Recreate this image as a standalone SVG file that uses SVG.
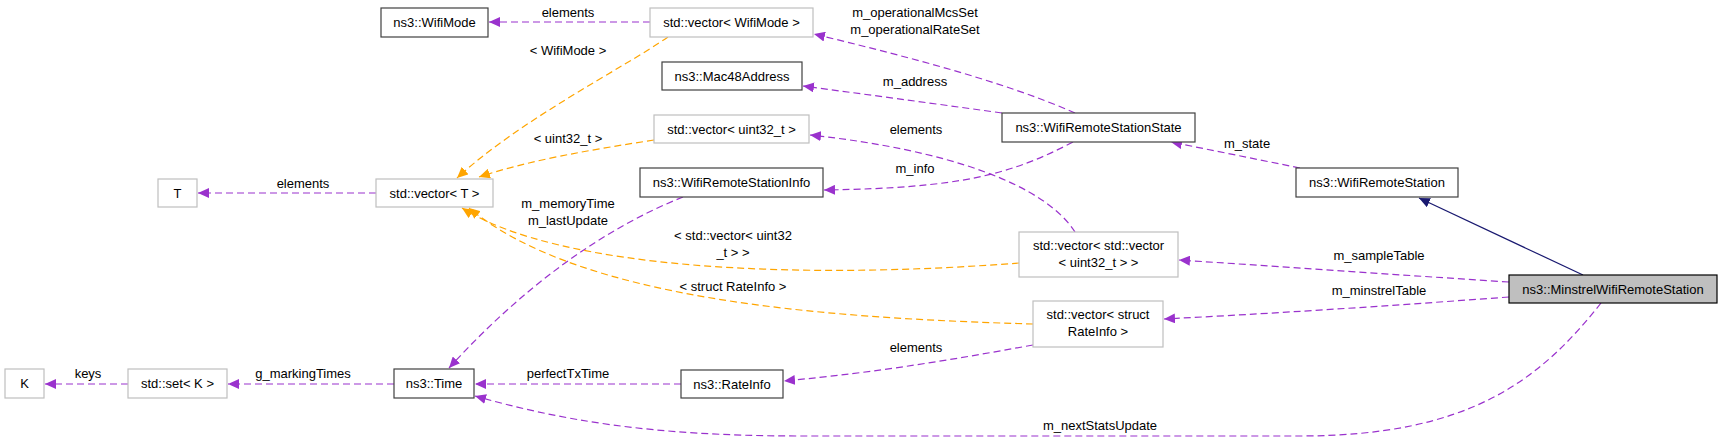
<svg xmlns="http://www.w3.org/2000/svg" width="1723" height="441" viewBox="0 0 1723 441">
<style>
text{font-family:"Liberation Sans",Arial,sans-serif;font-size:13px;fill:#000;text-anchor:middle}
.n rect{fill:#fff;stroke:#404040;stroke-width:1.2}
.g rect{fill:#fff;stroke:#bfbfbf;stroke-width:1.2}
.m rect{fill:#bfbfbf;stroke:#000;stroke-width:1.2}
.p{fill:none;stroke:#9a32cd;stroke-width:1.2;stroke-dasharray:7,4;marker-end:url(#ap)}
.o{fill:none;stroke:#ffa500;stroke-width:1.2;stroke-dasharray:7,4;marker-end:url(#ao)}
.b{fill:none;stroke:#191970;stroke-width:1.2;marker-end:url(#ab)}
</style>
<defs>
<marker id="ap" markerWidth="12" markerHeight="10" refX="11" refY="5" orient="auto" markerUnits="userSpaceOnUse"><path d="M0,0 L11,5 L0,10 Z" fill="#9a32cd"/></marker>
<marker id="ao" markerWidth="12" markerHeight="10" refX="11" refY="5" orient="auto" markerUnits="userSpaceOnUse"><path d="M0,0 L11,5 L0,10 Z" fill="#ffa500"/></marker>
<marker id="ab" markerWidth="12" markerHeight="10" refX="11" refY="5" orient="auto" markerUnits="userSpaceOnUse"><path d="M0,0 L11,5 L0,10 Z" fill="#191970"/></marker>
</defs>
<g id="edges">
<path class="p" d="M650,22 L489,22"/>
<path class="o" d="M668,37 C620,70 520,120 457,178"/>
<path class="p" d="M1075,113 C1000,80 900,55 814,34"/>
<path class="p" d="M1002,113 C930,103 870,95 803,86"/>
<path class="p" d="M1075,232 C1045,185 950,150 810,135"/>
<path class="o" d="M654,140 C590,150 530,160 479,177"/>
<path class="p" d="M1073,142 C1010,175 960,188 824,190"/>
<path class="p" d="M1300,168 L1171,142"/>
<path class="p" d="M376,193 L198,193"/>
<path class="p" d="M683,197 C600,230 520,290 449,368"/>
<path class="o" d="M1019,263 C800,280 560,270 462,208"/>
<path class="o" d="M1033,324 C820,318 580,300 469,208"/>
<path class="p" d="M1033,345 C950,360 880,372 784,381"/>
<path class="p" d="M1509,282 C1400,275 1300,268 1179,260"/>
<path class="p" d="M1509,297 C1400,305 1300,312 1164,319"/>
<path class="b" d="M1583,275 L1419,198"/>
<path class="p" d="M1601,303 C1540,380 1470,436 1300,436 L800,436 C650,436 560,420 475,396"/>
<path class="p" d="M681,384 L475,384"/>
<path class="p" d="M394,384 L228,384"/>
<path class="p" d="M128,384 L45,384"/>
<text x="568" y="17">elements</text>
<text x="568" y="55">&lt; WifiMode &gt;</text>
<text x="915" y="17">m_operationalMcsSet</text>
<text x="915" y="34">m_operationalRateSet</text>
<text x="915" y="86">m_address</text>
<text x="568" y="143">&lt; uint32_t &gt;</text>
<text x="916" y="134">elements</text>
<text x="915" y="173">m_info</text>
<text x="1247" y="148">m_state</text>
<text x="303" y="188">elements</text>
<text x="568" y="208">m_memoryTime</text>
<text x="568" y="225">m_lastUpdate</text>
<text x="733" y="240">&lt; std::vector&lt; uint32</text>
<text x="733" y="257">_t &gt; &gt;</text>
<text x="733" y="291">&lt; struct RateInfo &gt;</text>
<text x="1379" y="260">m_sampleTable</text>
<text x="1379" y="295">m_minstrelTable</text>
<text x="916" y="352">elements</text>
<text x="568" y="378">perfectTxTime</text>
<text x="303" y="378">g_markingTimes</text>
<text x="88" y="378">keys</text>
<text x="1100" y="430">m_nextStatsUpdate</text>
</g>
<g id="WifiMode" class="n"><rect x="381" y="8" width="107" height="29"/><text x="434.5" y="27">ns3::WifiMode</text></g>
<g id="vecWifiMode" class="g"><rect x="650" y="8" width="163" height="29"/><text x="731.5" y="27">std::vector&lt; WifiMode &gt;</text></g>
<g id="Mac48Address" class="n"><rect x="662" y="62" width="140" height="28"/><text x="732" y="81">ns3::Mac48Address</text></g>
<g id="vecUint32" class="g"><rect x="654" y="115" width="155" height="28"/><text x="731.5" y="134">std::vector&lt; uint32_t &gt;</text></g>
<g id="WifiRemoteStationState" class="n"><rect x="1002" y="113" width="193" height="29"/><text x="1098.5" y="132">ns3::WifiRemoteStationState</text></g>
<g id="WifiRemoteStation" class="n"><rect x="1296" y="168" width="162" height="29"/><text x="1377" y="187">ns3::WifiRemoteStation</text></g>
<g id="WifiRemoteStationInfo" class="n"><rect x="640" y="168" width="183" height="29"/><text x="731.5" y="187">ns3::WifiRemoteStationInfo</text></g>
<g id="T" class="g"><rect x="158" y="179" width="39" height="28"/><text x="177.5" y="198">T</text></g>
<g id="vecT" class="g"><rect x="376" y="179" width="117" height="28"/><text x="434.5" y="198">std::vector&lt; T &gt;</text></g>
<g id="vecVec" class="g"><rect x="1019" y="232" width="159" height="45"/><text x="1098.5" y="250">std::vector&lt; std::vector</text><text x="1098.5" y="267">&lt; uint32_t &gt; &gt;</text></g>
<g id="vecRateInfo" class="g"><rect x="1033" y="301" width="130" height="46"/><text x="1098" y="319">std::vector&lt; struct</text><text x="1098" y="336">RateInfo &gt;</text></g>
<g id="Minstrel" class="m"><rect x="1509" y="275" width="208" height="28"/><text x="1613" y="294">ns3::MinstrelWifiRemoteStation</text></g>
<g id="K" class="g"><rect x="5" y="369" width="39" height="29"/><text x="24.5" y="388">K</text></g>
<g id="setK" class="g"><rect x="128" y="369" width="99" height="29"/><text x="177.5" y="388">std::set&lt; K &gt;</text></g>
<g id="Time" class="n"><rect x="394" y="369" width="80" height="29"/><text x="434" y="388">ns3::Time</text></g>
<g id="RateInfo" class="n"><rect x="681" y="370" width="102" height="28"/><text x="732" y="389">ns3::RateInfo</text></g>
</svg>
